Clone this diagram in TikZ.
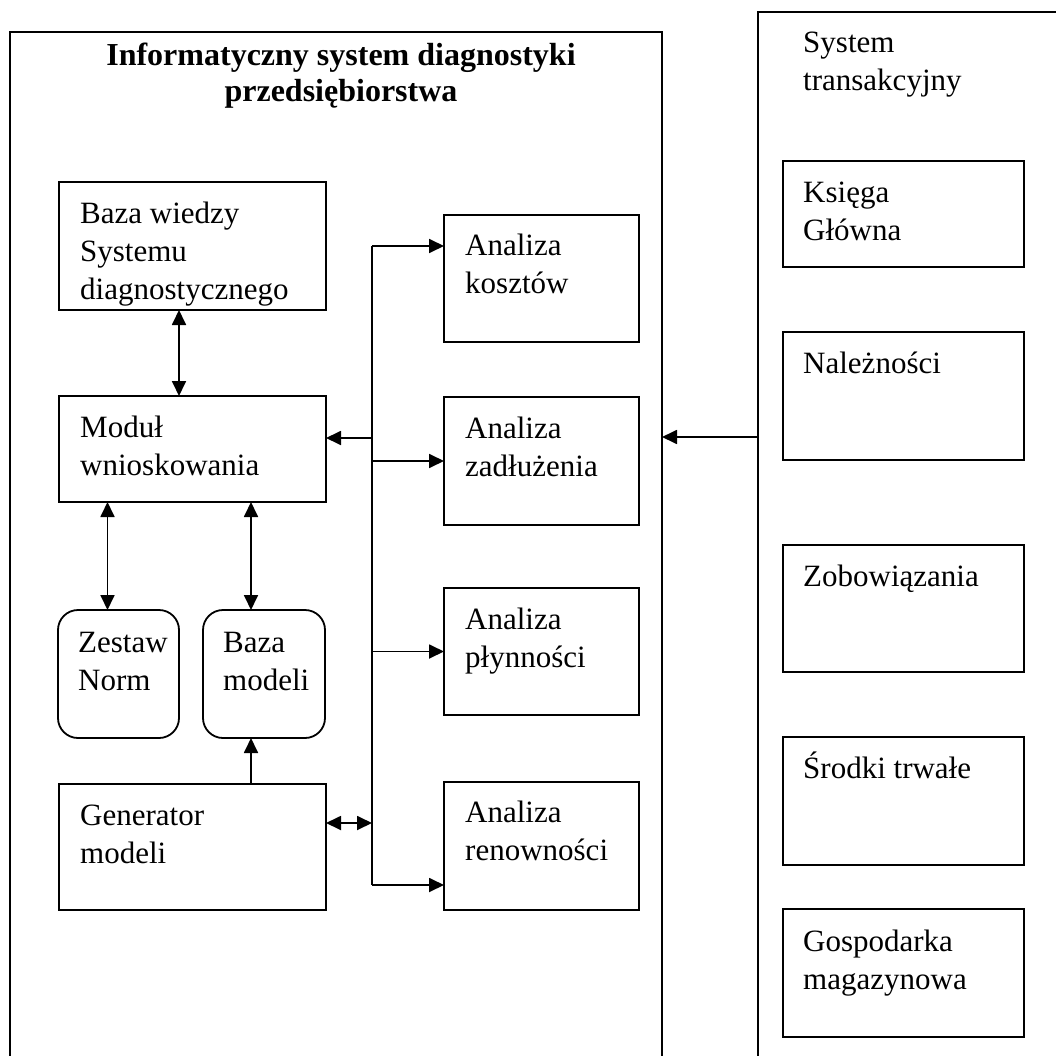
\documentclass[tikz,border=0pt]{standalone}
\usepackage{fontspec}
\setmainfont{Liberation Serif}
\usetikzlibrary{arrows.meta,positioning,calc}
\tikzset{
    blok/.style={draw, rectangle, anchor=north west, inner sep=0pt, outer sep=0pt, line width=1.8pt},
    oblok/.style={blok, rounded corners=20pt},
    opis/.style={anchor=base west, align=left, inner sep=0pt, font=\fontsize{31}{38}\selectfont},
    strz/.style={line width=1.8pt}
}

\begin{document}
\begin{tikzpicture}[x=1pt, y=-1pt, >={Triangle[length=15pt,width=14pt]}]
    \useasboundingbox (0,0) rectangle (1056,1056);
    \clip (0,0) rectangle (1056,1056);
    % duze ramki
    \node[blok, minimum width=652pt, minimum height=1100pt] (isd) at (10,32) {};
    \node[blok, minimum width=500pt, minimum height=1100pt] (trans) at (758,12) {};
    % opisy wielowierszowe: punkt = linia bazowa ostatniego wiersza
    \node[opis, anchor=base, align=center, font=\bfseries\fontsize{32}{36}\selectfont] (tytul) at (341,102) {Informatyczny system diagnostyki\\przedsiębiorstwa};
    \node[opis] (ttrans) at (803,91) {System\\transakcyjny};
    % lewa kolumna
    \node[blok, minimum width=267pt, minimum height=128pt] (wiedza) at (59,182) {};
    \node[opis] (twiedza) at (80,299) {Baza wiedzy\\Systemu\\diagnostycznego};
    \node[blok, minimum width=267pt, minimum height=106pt] (modul) at (59,396) {};
    \node[opis] (tmodul) at (80,475) {Moduł\\wnioskowania};
    \node[oblok, minimum width=121pt, minimum height=128pt] (norm) at (58,610) {};
    \node[opis] (tnorm) at (78,690) {Zestaw\\Norm};
    \node[oblok, minimum width=122pt, minimum height=128pt] (modele) at (203,610) {};
    \node[opis] (tmodele) at (223,690) {Baza\\modeli};
    \node[blok, minimum width=267pt, minimum height=126pt] (generator) at (59,784) {};
    \node[opis] (tgenerator) at (80,863) {Generator\\modeli};
    % analizy
    \node[blok, minimum width=195pt, minimum height=127pt] (koszty) at (444,215) {};
    \node[opis] (tkoszty) at (465,294) {Analiza\\kosztów};
    \node[blok, minimum width=195pt, minimum height=128pt] (zadluzenie) at (444,397) {};
    \node[opis] (tzadluzenie) at (465,476) {Analiza\\zadłużenia};
    \node[blok, minimum width=195pt, minimum height=127pt] (plynnosc) at (444,588) {};
    \node[opis] (tplynnosc) at (465,667) {Analiza\\płynności};
    \node[blok, minimum width=195pt, minimum height=128pt] (renownosc) at (444,782) {};
    \node[opis] (trenownosc) at (465,860) {Analiza\\renowności};
    % system transakcyjny
    \node[blok, minimum width=241pt, minimum height=106pt] (ksiega) at (783,161) {};
    \node[opis] (tksiega) at (803,241) {Księga\\Główna};
    \node[blok, minimum width=241pt, minimum height=128pt] (naleznosci) at (783,332) {};
    \node[opis] (tnaleznosci) at (803,373) {Należności};
    \node[blok, minimum width=241pt, minimum height=127pt] (zobowiazania) at (783,545) {};
    \node[opis] (tzobowiazania) at (803,586) {Zobowiązania};
    \node[blok, minimum width=241pt, minimum height=128pt] (srodki) at (783,737) {};
    \node[opis] (tsrodki) at (803,778) {Środki trwałe};
    \node[blok, minimum width=241pt, minimum height=128pt] (magazyn) at (783,909) {};
    \node[opis] (tmagazyn) at (803,989) {Gospodarka\\magazynowa};
    % szyna i strzalki
    \coordinate (sg) at (372,246);
    \coordinate (sd) at (372,885);
    \coordinate (sm) at (372,438);
    \coordinate (sgen) at (372,823);
    \coordinate (we) at (758,437);
    \draw[strz] (sg) -- (sd);
    \draw[strz, ->] (sg) -- (sg -| koszty.west);
    \draw[strz, ->] (sm) -- (sm -| modul.east);
    \draw[strz, ->] (zadluzenie.west -| sg) -- (zadluzenie.west);
    \draw[strz, ->] (plynnosc.west -| sg) -- (plynnosc.west);
    \draw[strz, ->] (sd) -- (sd -| renownosc.west);
    \draw[strz, <->] (sgen -| generator.east) -- (sgen);
    \draw[strz, ->] (we) -- (we -| isd.east);
    \draw[strz, <->] (wiedza.south -| norm.east) -- (modul.north -| norm.east);
    \draw[strz, <->] ([xshift=-11pt]modul.south -| norm.north) -- ([xshift=-11pt]norm.north);
    \draw[strz, <->] ([xshift=-13pt]modul.south -| modele.north) -- ([xshift=-13pt]modele.north);
    \draw[strz, ->] ([xshift=-13pt]generator.north -| modele.south) -- ([xshift=-13pt]modele.south);
\end{tikzpicture}
\end{document}
